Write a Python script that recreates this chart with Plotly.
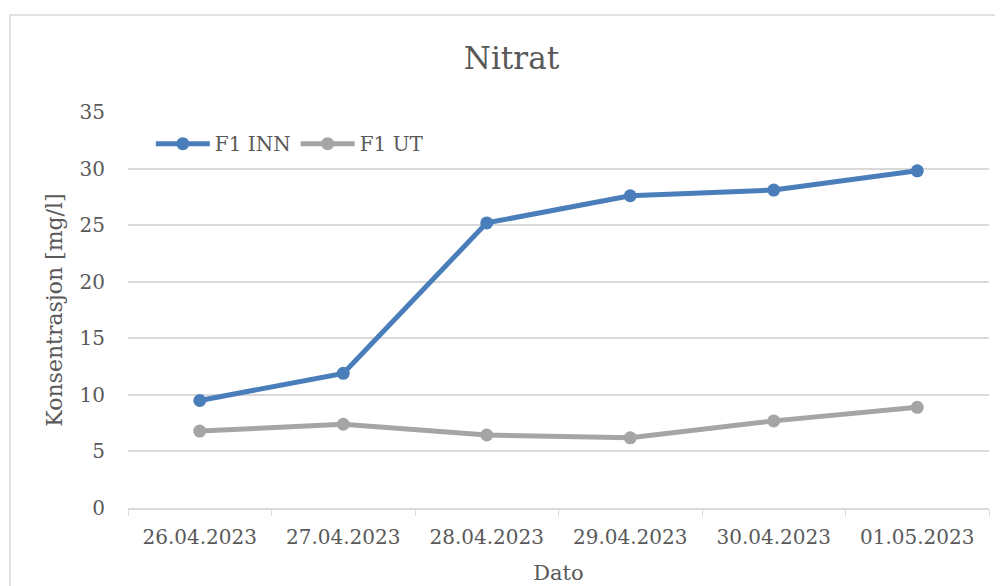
import plotly.graph_objects as go

datoer = ["26.04.2023", "27.04.2023", "28.04.2023", "29.04.2023", "30.04.2023", "01.05.2023"]
f1_inn = [9.5, 11.9, 25.2, 27.6, 28.1, 29.8]
f1_ut = [6.8, 7.4, 6.45, 6.2, 7.7, 8.9]

fig = go.Figure()

fig.add_trace(go.Scatter(
    x=datoer, y=f1_inn, name="F1 INN", mode="lines+markers",
    line=dict(color="#4A7EBB", width=5),
    marker=dict(size=13, color="#4A7EBB")
))
fig.add_trace(go.Scatter(
    x=datoer, y=f1_ut, name="F1 UT", mode="lines+markers",
    line=dict(color="#A5A5A5", width=5),
    marker=dict(size=13, color="#A5A5A5")
))

# ramme rundt hele diagrammet
fig.add_shape(
    type="rect", xref="paper", yref="paper",
    x0=-0.137, x1=1.05, y0=-0.3, y1=1.245,
    line=dict(color="#D9D9D9", width=1.5), fillcolor="rgba(0,0,0,0)", layer="below"
)

# siden har 8px marg rundt figuren, derfor 995x578
fig.update_layout(
    width=995,
    height=578,
    margin=dict(l=120, r=14, t=104, b=78),
    paper_bgcolor="white",
    plot_bgcolor="white",
    font=dict(family="DejaVu Serif", color="#595959", size=20),
    title=dict(text="Nitrat", x=0.506, xanchor="center", y=0.913, yanchor="middle",
               font=dict(size=31, color="#595959")),
    showlegend=True,
    legend=dict(orientation="h", x=0.0265, y=0.92, xanchor="left", yanchor="middle",
                bgcolor="rgba(0,0,0,0)", font=dict(size=20), itemwidth=54),
    xaxis=dict(
        type="category",
        range=[-0.5, len(datoer) - 0.5],
        automargin=False,
        title=dict(text="Dato", font=dict(size=21), standoff=18),
        showgrid=False,
        showline=True, linecolor="#D9D9D9", linewidth=1.5,
        ticks="outside", tickson="boundaries", ticklen=6, tickcolor="#D9D9D9",
        tickfont=dict(size=20), ticklabelstandoff=10,
    ),
    yaxis=dict(
        automargin=False,
        title=dict(text="Konsentrasjon [mg/l]", font=dict(size=22), standoff=10),
        range=[0, 35], dtick=5,
        showgrid=True, gridcolor="#D9D9D9", gridwidth=1.5,
        zeroline=False, showline=False,
        tickfont=dict(size=20), ticklabelstandoff=22,
    ),
)

fig.write_html("out.html")
